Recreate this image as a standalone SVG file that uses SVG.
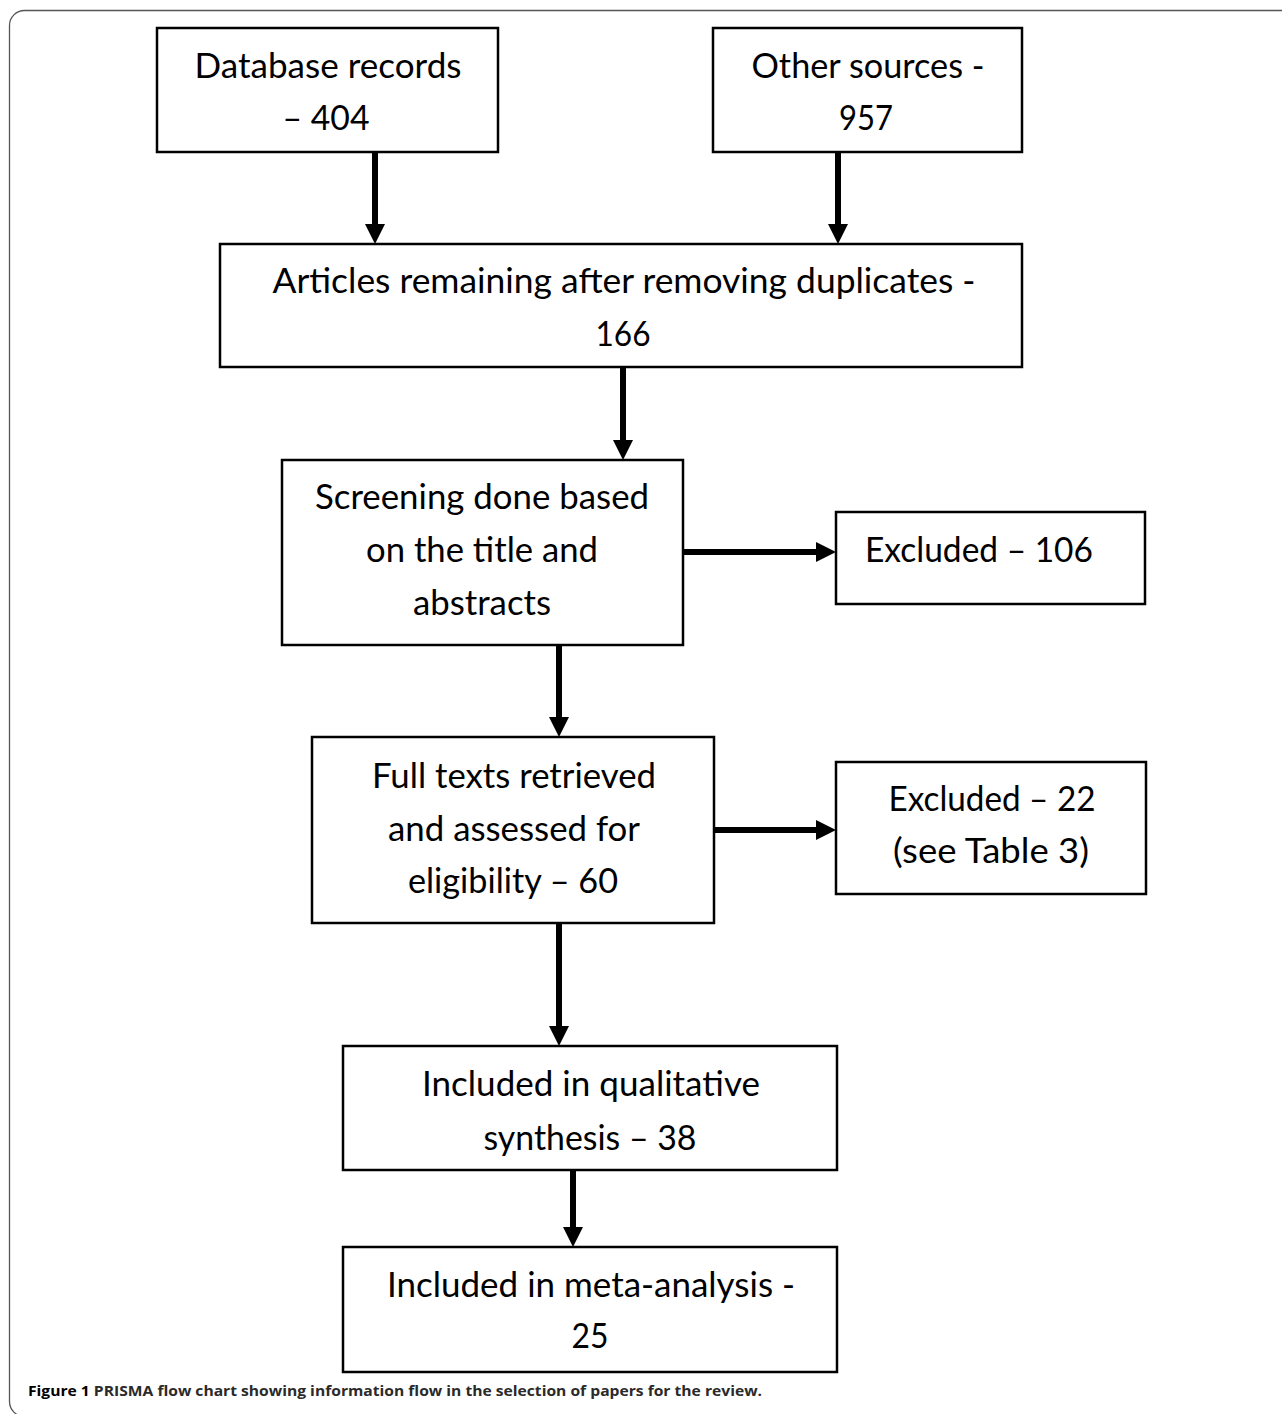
<svg xmlns="http://www.w3.org/2000/svg" width="1282" height="1414" viewBox="0 0 1282 1414">
<style>
.box{fill:#fff;stroke:#000;stroke-width:2.5}
.t{font-family:Lato,"Open Sans","Liberation Sans",sans-serif;font-size:34px;fill:#000;text-anchor:middle}
.c{stroke:#000;stroke-width:6;fill:none;marker-end:url(#ah)}
.cap{font-family:"Open Sans","Liberation Sans",sans-serif;font-size:15px;font-weight:bold;fill:#2a2a2a}
</style>
<defs>
<marker id="ah" markerUnits="userSpaceOnUse" markerWidth="20" markerHeight="20" refX="5" refY="10" orient="auto">
<path d="M0,0 L20,10 L0,20 Z" fill="#000"/>
</marker>
</defs>
<rect x="0" y="0" width="1282" height="1414" fill="#fff"/>
<rect x="9.5" y="10.5" width="1320" height="1406" rx="15" ry="15" fill="none" stroke="#555" stroke-width="1.3"/>
<g id="connectors">
<line class="c" x1="375" y1="152" x2="375" y2="229"/>
<line class="c" x1="838" y1="152" x2="838" y2="229"/>
<line class="c" x1="623" y1="367" x2="623" y2="445"/>
<line class="c" x1="683" y1="552" x2="821" y2="552"/>
<line class="c" x1="559" y1="645" x2="559" y2="722"/>
<line class="c" x1="714" y1="830" x2="821" y2="830"/>
<line class="c" x1="559" y1="923" x2="559" y2="1031"/>
<line class="c" x1="573" y1="1170" x2="573" y2="1232"/>
</g>
<g id="n1"><rect class="box" x="157" y="28" width="341" height="124"/>
<text class="t" x="328" y="78" textLength="267" lengthAdjust="spacingAndGlyphs">Database records</text>
<text class="t" x="326" y="130" textLength="87" lengthAdjust="spacingAndGlyphs">– 404</text></g>
<g id="n2"><rect class="box" x="713" y="28" width="309" height="124"/>
<text class="t" x="868" y="78" textLength="233" lengthAdjust="spacingAndGlyphs">Other sources -</text>
<text class="t" x="866" y="130" textLength="54" lengthAdjust="spacingAndGlyphs">957</text></g>
<g id="n3"><rect class="box" x="220" y="244" width="802" height="123"/>
<text class="t" x="624" y="293" textLength="703" lengthAdjust="spacingAndGlyphs">Articles remaining after removing duplicates -</text>
<text class="t" x="623" y="346" textLength="55" lengthAdjust="spacingAndGlyphs">166</text></g>
<g id="n4"><rect class="box" x="282" y="460" width="401" height="185"/>
<text class="t" x="482" y="509" textLength="334" lengthAdjust="spacingAndGlyphs">Screening done based</text>
<text class="t" x="482" y="562" textLength="232" lengthAdjust="spacingAndGlyphs">on the title and</text>
<text class="t" x="482" y="615" textLength="138" lengthAdjust="spacingAndGlyphs">abstracts</text></g>
<g id="n5"><rect class="box" x="836" y="512" width="309" height="92"/>
<text class="t" x="979" y="562" textLength="228" lengthAdjust="spacingAndGlyphs">Excluded – 106</text></g>
<g id="n6"><rect class="box" x="312" y="737" width="402" height="186"/>
<text class="t" x="514" y="788" textLength="284" lengthAdjust="spacingAndGlyphs">Full texts retrieved</text>
<text class="t" x="514" y="841" textLength="252" lengthAdjust="spacingAndGlyphs">and assessed for</text>
<text class="t" x="513" y="893" textLength="210" lengthAdjust="spacingAndGlyphs">eligibility – 60</text></g>
<g id="n7"><rect class="box" x="836" y="762" width="310" height="132"/>
<text class="t" x="992" y="811" textLength="207" lengthAdjust="spacingAndGlyphs">Excluded – 22</text>
<text class="t" x="991" y="863" textLength="196" lengthAdjust="spacingAndGlyphs">(see Table 3)</text></g>
<g id="n8"><rect class="box" x="343" y="1046" width="494" height="124"/>
<text class="t" x="591" y="1096" textLength="338" lengthAdjust="spacingAndGlyphs">Included in qualitative</text>
<text class="t" x="590" y="1150" textLength="213" lengthAdjust="spacingAndGlyphs">synthesis – 38</text></g>
<g id="n9"><rect class="box" x="343" y="1247" width="494" height="125"/>
<text class="t" x="591" y="1297" textLength="408" lengthAdjust="spacingAndGlyphs">Included in meta-analysis -</text>
<text class="t" x="590" y="1348" textLength="37" lengthAdjust="spacingAndGlyphs">25</text></g>
<text class="cap" x="28" y="1396" textLength="734" lengthAdjust="spacingAndGlyphs"><tspan fill="#000">Figure 1</tspan> PRISMA flow chart showing information flow in the selection of papers for the review.</text>
</svg>
